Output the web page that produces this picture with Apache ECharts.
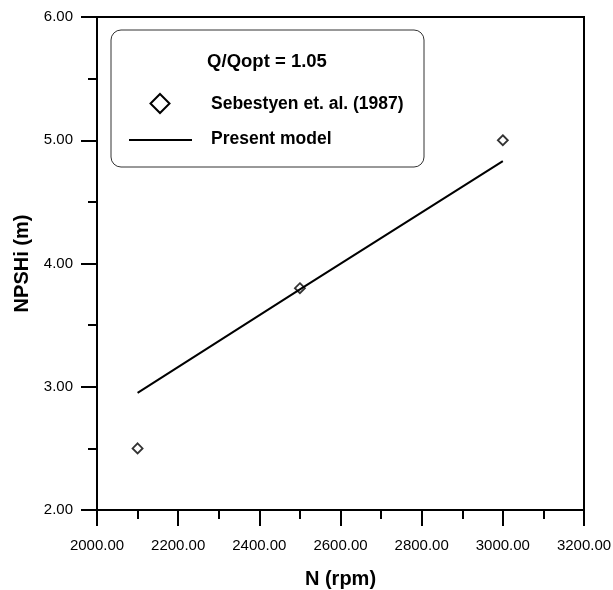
<!DOCTYPE html>
<html>
<head>
<meta charset="utf-8">
<script src="https://cdn.jsdelivr.net/npm/echarts@6/dist/echarts.min.js"></script>
<style>html,body{margin:0;padding:0;background:#fff}#c{width:613px;height:590px}</style>
</head>
<body>
<div id="c"></div>
<script>
// Data
const expN = [2100, 2500, 3000];
const expNPSH = [2.5, 3.8, 5.0];
const modelN = [2100, 2500, 3000];
const modelNPSH = [2.95, 3.79, 4.83];
const xTicks = [2000, 2200, 2400, 2600, 2800, 3000, 3200];
const yTicks = [2, 3, 4, 5, 6];
const legendTitle = 'Q/Qopt = 1.05';
const expName = 'Sebestyen et. al. (1987)';
const modelName = 'Present model';
const xName = 'N (rpm)';
const yName = 'NPSHi (m)';

const FONT = "'Liberation Sans', Arial, sans-serif";
const chart = echarts.init(document.getElementById('c'), null, {renderer: 'canvas'});

const grid = {left: 97, right: 29, top: 17, bottom: 80};

chart.setOption({
  animation: false,
  backgroundColor: '#fff',
  grid: Object.assign({show: true, borderColor: '#000', borderWidth: 2, backgroundColor: 'transparent',
    containLabel: false, outerBoundsMode: 'none'}, grid),
  xAxis: {
    type: 'value',
    min: xTicks[0], max: xTicks[xTicks.length - 1], interval: 200,
    name: xName, nameLocation: 'middle', nameGap: 59,
    nameTextStyle: {fontFamily: FONT, fontSize: 20, fontWeight: 'bold', color: '#000'},
    axisLine: {show: true, onZero: false, lineStyle: {color: '#000', width: 2}},
    axisTick: {show: true, length: 16, lineStyle: {color: '#000', width: 2}},
    minorTick: {show: true, splitNumber: 2, length: 9, lineStyle: {color: '#000', width: 2}},
    splitLine: {show: false},
    axisLabel: {margin: 28, fontFamily: FONT, fontSize: 15, color: '#000',
      formatter: v => v.toFixed(2)}
  },
  yAxis: {
    type: 'value',
    min: yTicks[0], max: yTicks[yTicks.length - 1], interval: 1,
    name: yName, nameLocation: 'middle', nameGap: 64,
    nameTextStyle: {fontFamily: FONT, fontSize: 20, fontWeight: 'bold', color: '#000'},
    axisLine: {show: true, onZero: false, lineStyle: {color: '#000', width: 2}},
    axisTick: {show: true, length: 16, lineStyle: {color: '#000', width: 2}},
    minorTick: {show: true, splitNumber: 2, length: 9, lineStyle: {color: '#000', width: 2}},
    splitLine: {show: false},
    axisLabel: {margin: 24, fontFamily: FONT, fontSize: 15, color: '#000',
      formatter: v => v.toFixed(2)}
  },
  series: [
    {
      name: modelName, type: 'line',
      data: modelN.map((x, i) => [x, modelNPSH[i]]),
      showSymbol: false, symbol: 'none',
      lineStyle: {color: '#000', width: 2}
    },
    {
      name: expName, type: 'scatter',
      data: expN.map((x, i) => [x, expNPSH[i]]),
      symbol: 'diamond', symbolSize: [10, 10],
      itemStyle: {color: '#fff', borderColor: '#000', borderWidth: 1.8}
    }
  ],
  graphic: [
    {type: 'rect', shape: {x: 111, y: 30, width: 313, height: 137, r: 10},
      style: {fill: '#fff', stroke: '#333', lineWidth: 1}, z: 100},
    {type: 'text', x: 267, y: 62, z: 101,
      style: {text: legendTitle, fontFamily: FONT, fontSize: 18.5, fontWeight: 'bold', fill: '#000',
        align: 'center', verticalAlign: 'middle'}},
    {type: 'polygon', z: 101, shape: {points: [[160, 94], [169.5, 103.5], [160, 113], [150.5, 103.5]]},
      style: {fill: '#fff', stroke: '#000', lineWidth: 2}},
    {type: 'text', x: 211, y: 104, z: 101,
      style: {text: expName, fontFamily: FONT, fontSize: 17.5, fontWeight: 'bold', fill: '#000',
        align: 'left', verticalAlign: 'middle'}},
    {type: 'line', z: 101, shape: {x1: 129, y1: 140, x2: 192, y2: 140},
      style: {stroke: '#000', lineWidth: 2}},
    {type: 'text', x: 211, y: 139, z: 101,
      style: {text: modelName, fontFamily: FONT, fontSize: 17.5, fontWeight: 'bold', fill: '#000',
        align: 'left', verticalAlign: 'middle'}}
  ]
});
</script>
</body>
</html>
